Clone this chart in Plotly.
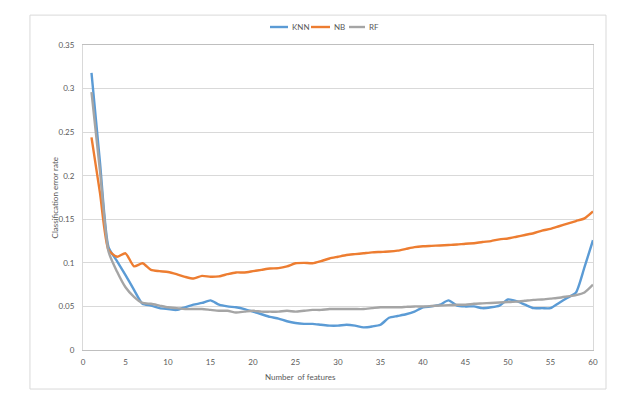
import plotly.graph_objects as go

features = list(range(1, 61))

knn = [0.318, 0.215, 0.118, 0.102, 0.086, 0.069, 0.053, 0.051, 0.048, 0.047,
       0.046, 0.049, 0.052, 0.054, 0.057, 0.052, 0.050, 0.049, 0.047, 0.044,
       0.041, 0.038, 0.036, 0.033, 0.031, 0.030, 0.030, 0.029, 0.028, 0.028,
       0.029, 0.028, 0.026, 0.027, 0.029, 0.037, 0.039, 0.041, 0.044, 0.049,
       0.050, 0.052, 0.057, 0.051, 0.050, 0.050, 0.048, 0.049, 0.051, 0.058,
       0.056, 0.052, 0.048, 0.048, 0.048, 0.054, 0.060, 0.066, 0.095, 0.126]

nb = [0.244, 0.180, 0.115, 0.107, 0.111, 0.096, 0.0995, 0.092, 0.0905, 0.0895,
      0.087, 0.084, 0.082, 0.085, 0.084, 0.0845, 0.087, 0.089, 0.089, 0.0905,
      0.092, 0.0935, 0.094, 0.096, 0.0995, 0.100, 0.0995, 0.102, 0.105, 0.107,
      0.109, 0.110, 0.111, 0.112, 0.1125, 0.113, 0.114, 0.116, 0.118, 0.119,
      0.1195, 0.120, 0.1205, 0.121, 0.122, 0.1225, 0.124, 0.125, 0.127, 0.128,
      0.130, 0.132, 0.134, 0.137, 0.139, 0.142, 0.145, 0.148, 0.151, 0.159]

rf = [0.296, 0.205, 0.113, 0.090, 0.072, 0.061, 0.054, 0.053, 0.051, 0.049,
      0.048, 0.047, 0.047, 0.047, 0.046, 0.045, 0.045, 0.043, 0.044, 0.045,
      0.044, 0.044, 0.044, 0.045, 0.044, 0.045, 0.046, 0.046, 0.047, 0.047,
      0.047, 0.047, 0.047, 0.048, 0.049, 0.049, 0.049, 0.0495, 0.050, 0.050,
      0.0505, 0.051, 0.0515, 0.052, 0.052, 0.053, 0.0535, 0.054, 0.0545, 0.055,
      0.0555, 0.0565, 0.0575, 0.058, 0.059, 0.060, 0.0615, 0.063, 0.066, 0.075]

series_names = ["KNN", "NB", "RF"]
series_colors = ["#5B9BD5", "#ED7D31", "#A5A5A5"]
x_ticks = [0, 5, 10, 15, 20, 25, 30, 35, 40, 45, 50, 55, 60]
y_ticks = [0, 0.05, 0.1, 0.15, 0.2, 0.25, 0.3, 0.35]

FONT = "Lato"
TXT = "#595959"

fig = go.Figure()
for name, vals, col in zip(series_names, [knn, nb, rf], series_colors):
    fig.add_trace(go.Scatter(
        x=features, y=vals, name=name, mode="lines",
        line=dict(color=col, width=2.4, shape="spline", smoothing=0.6),
        showlegend=False,
    ))

# compact legend drawn like the original (short line sample + label)
legend_line_x = [(0.3667, 0.402), (0.4471, 0.4843), (0.5216, 0.553)]
legend_y = 1.059
shapes = [
    dict(type="rect", xref="paper", yref="paper", x0=-0.104, x1=1.0255,
         y0=-0.128, y1=1.098, line=dict(color="#D9D9D9", width=1),
         fillcolor="rgba(0,0,0,0)", layer="below"),
]
annotations = [
    dict(text="Number  of features", x=0.4255, y=-0.088, xref="paper", yref="paper",
         showarrow=False, xanchor="center", yanchor="middle",
         font=dict(size=8, color=TXT)),
    dict(text="Classification error rate", x=-0.055, y=0.5, xref="paper", yref="paper",
         showarrow=False, textangle=-90, xanchor="center", yanchor="middle",
         font=dict(size=8, color=TXT)),
]
for name, col, (lx0, lx1) in zip(series_names, series_colors, legend_line_x):
    shapes.append(dict(type="line", xref="paper", yref="paper", x0=lx0, x1=lx1,
                       y0=legend_y, y1=legend_y, line=dict(color=col, width=2.4)))
    annotations.append(dict(text=name, x=lx1 + 0.003, y=legend_y, xref="paper",
                            yref="paper", showarrow=False, xanchor="left",
                            yanchor="middle", font=dict(size=8, color=TXT)))

fig.update_layout(
    width=644, height=406,
    margin=dict(l=75, r=59, t=37, b=64, autoexpand=False),
    paper_bgcolor="white", plot_bgcolor="white",
    font=dict(family=FONT, size=8, color=TXT),
    showlegend=False,
    xaxis=dict(range=[0, 60], tickvals=x_ticks, showgrid=False, zeroline=False,
               showline=True, linecolor="#BFBFBF", linewidth=1, mirror=True,
               ticks="", tickfont=dict(size=8, color=TXT), ticklabelstandoff=4),
    yaxis=dict(range=[0, 0.35], tickvals=y_ticks, showgrid=True, gridcolor="#D9D9D9",
               gridwidth=1, zeroline=False, showline=True, linecolor="#D9D9D9",
               linewidth=1, mirror=True, ticks="", tickfont=dict(size=8, color=TXT),
               ticklabelstandoff=6),
    annotations=annotations,
    shapes=shapes,
)

fig.write_html("out.html")
